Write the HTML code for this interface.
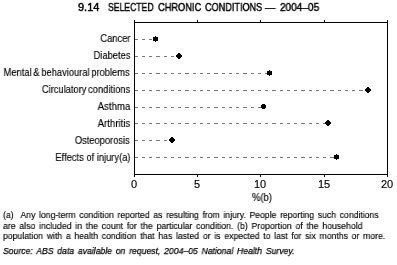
<!DOCTYPE html>
<html><head><meta charset="utf-8">
<style>
html,body{margin:0;padding:0;background:#fff;}
body{width:397px;height:265px;position:relative;overflow:hidden;font-family:"Liberation Sans",sans-serif;color:#000;-webkit-font-smoothing:antialiased;}
.t{-webkit-text-stroke:0.15px #000;will-change:transform;position:absolute;white-space:pre;line-height:12px;transform-origin:0 0;}
.ti{font-weight:normal;font-size:11px;top:1px;-webkit-text-stroke:0.45px #000;}
.lab{font-size:11px;transform-origin:100% 0;transform:scaleX(0.848);text-align:right;right:267px;}
.num{font-size:11px;text-align:center;width:30px;top:178px;}
.fn{-webkit-text-stroke:0.15px #000;font-size:9.5px;left:3px;line-height:11px;transform:scaleX(0.866);word-spacing:1.45px;}
svg{position:absolute;left:0;top:0;}
</style></head>
<body>
<div class="t ti" style="left:78px;">9.14</div>
<div class="t ti" style="left:108px;transform:scaleX(0.784);">SELECTED</div>
<div class="t ti" style="left:158px;transform:scaleX(0.84);">CHRONIC</div>
<div class="t ti" style="left:205px;transform:scaleX(0.828);">CONDITIONS</div>
<div class="t ti" style="left:264.5px;transform:scaleX(0.95);">—</div>
<div class="t ti" style="left:279.5px;transform:scaleX(0.915);">2004–05</div>

<div class="t lab" style="top:32px;">Cancer</div>
<div class="t lab" style="top:49px;">Diabetes</div>
<div class="t lab" style="top:66px;word-spacing:-1px;">Mental &amp; behavioural problems</div>
<div class="t lab" style="top:83px;word-spacing:-1px;">Circulatory conditions</div>
<div class="t lab" style="top:100px;transform:scaleX(0.875);">Asthma</div>
<div class="t lab" style="top:117px;transform:scaleX(0.875);">Arthritis</div>
<div class="t lab" style="top:134px;">Osteoporosis</div>
<div class="t lab" style="top:151px;">Effects of injury(a)</div>

<svg width="397" height="265" viewBox="0 0 397 265">
<g stroke="#787878" stroke-width="1" stroke-dasharray="3.2 4.05" shape-rendering="crispEdges">
<line x1="134.6" y1="39.5" x2="155" y2="39.5"/>
<line x1="134.6" y1="56.5" x2="179" y2="56.5"/>
<line x1="134.6" y1="73.5" x2="269" y2="73.5"/>
<line x1="134.6" y1="90.5" x2="368" y2="90.5"/>
<line x1="134.6" y1="107.5" x2="263" y2="107.5"/>
<line x1="134.6" y1="123.5" x2="328" y2="123.5"/>
<line x1="134.6" y1="140.5" x2="172" y2="140.5"/>
<line x1="134.6" y1="157.5" x2="336" y2="157.5"/>
</g>
<g stroke="#000" stroke-width="1" fill="none" shape-rendering="crispEdges">
<path d="M134.5 20 V177 M387.5 20 V177 M134 22.5 H388 M134 174.5 H388"/>
<path d="M197.5 20 V22 M260.5 20 V22 M324.5 20 V22 M197.5 175 V177 M260.5 175 V177 M324.5 175 V177"/>
</g>
<g fill="#000" shape-rendering="crispEdges">
<path d="M153 37h5v4h-5z M155 36h1v1h-1z M155 41h1v1h-1z"/>
<path d="M178 53h2v1h-2z M177 54h4v1h-4z M176 55h6v2h-6z M177 57h4v1h-4z M178 58h2v1h-2z"/>
<path d="M267 71h5v4h-5z M269 70h1v1h-1z M269 75h1v1h-1z"/>
<path d="M367 87h2v1h-2z M366 88h4v1h-4z M365 89h6v2h-6z M366 91h4v1h-4z M367 92h2v1h-2z"/>
<path d="M262 104h3v1h-3z M261 105h5v3h-5z M262 108h3v1h-3z"/>
<path d="M327 120h2v1h-2z M326 121h4v1h-4z M325 122h6v2h-6z M326 124h4v1h-4z M327 125h2v1h-2z"/>
<path d="M171 137h2v1h-2z M170 138h4v1h-4z M169 139h6v2h-6z M170 141h4v1h-4z M171 142h2v1h-2z"/>
<path d="M334 155h5v4h-5z M336 154h1v1h-1z M336 159h1v1h-1z"/>
</g>
</svg>

<div class="t num" style="left:119px;">0</div>
<div class="t num" style="left:182px;">5</div>
<div class="t num" style="left:245px;">10</div>
<div class="t num" style="left:309px;">15</div>
<div class="t num" style="left:372px;">20</div>
<div class="t" style="font-size:10px;left:252px;top:192px;transform:scaleX(0.94);">%(b)</div>

<div class="t fn" style="top:209px;transform:scaleX(0.908);">(a)  Any long-term condition reported as resulting from injury. People reporting such conditions</div>
<div class="t fn" style="top:220px;transform:scaleX(0.917);">are also included in the count for the particular condition. (b) Proportion of the household</div>
<div class="t fn" style="top:230px;transform:scaleX(0.912);">population with a health condition that has lasted or is expected to last for six months or more.</div>
<div class="t fn" style="top:245px;font-style:italic;transform:scaleX(0.911);-webkit-text-stroke:0.25px #000;">Source: ABS data available on request, 2004–05 National Health Survey.</div>
</body></html>
